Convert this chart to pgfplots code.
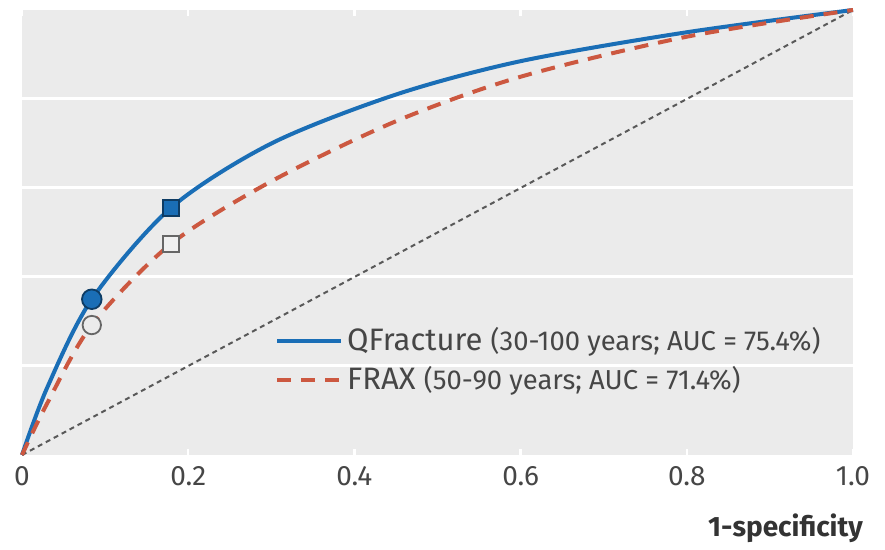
\documentclass[border=0pt]{standalone}
\usepackage{fontspec}
\setmainfont{Fira Sans}
\usepackage{pgfplots}
\pgfplotsset{compat=1.18}

\definecolor{qblue}{RGB}{26,110,182}
\definecolor{fred}{RGB}{204,88,64}
\definecolor{panel}{RGB}{235,235,235}
\definecolor{txt}{RGB}{70,70,70}

\begin{document}
\begin{tikzpicture}
\begin{axis}[
  width=415.5pt, height=222.5pt, scale only axis,
  xmin=0, xmax=1, ymin=0, ymax=1,
  axis background/.style={fill=panel},
  axis line style={draw=none},
  xtick={0,0.2,0.4,0.6,0.8,1},
  xticklabels={0,0.2,0.4,0.6,0.8,1.0},
  ytick={0.2,0.4,0.6,0.8},
  yticklabels={},
  ymajorgrids,
  grid style={white, line width=1.5pt},
  major tick length=3pt,
  tick align=inside,
  xtick style={white, line width=1.2pt},
  ytick style={draw=none},
  /pgf/number format/assume math mode=true,
  tick label style={font=\fontsize{14}{16}\selectfont, text=txt},
  xticklabel style={yshift=-2pt},
  xlabel={\textbf{1-specificity}},
  xlabel style={at={(axis description cs:1,0)}, anchor=north east,
    font=\fontsize{14}{16}\selectfont, text=black!80, yshift=-26pt, xshift=8.5pt},
  legend style={draw=none, fill=none, at={(0.297,0.305)}, anchor=north west,
    font=\fontsize{15.5}{17}\selectfont, text=txt, row sep=2.5pt},
  legend cell align=left,
  legend image code/.code={\draw[#1] (0pt,0pt) -- (32pt,0pt);},
  clip=false,
]
% chance line
\addplot[forget plot, black!65, line width=1pt, dash pattern=on 2.5pt off 2pt]
  coordinates {(0,0) (1,1)};

% QFracture ROC curve
\addplot[qblue, line width=2pt, smooth] coordinates {
  (0,0) (0.03,0.15) (0.084,0.35) (0.179,0.555) (0.3,0.70)
  (0.45,0.81) (0.6,0.885) (0.8,0.95) (1,1)};
\addlegendentry{QFracture {\fontsize{13.7}{15}\selectfont (30-100 years; AUC = 75.4\%)}}

% FRAX ROC curve
\addplot[fred, line width=2pt, smooth, dash pattern=on 7pt off 5pt] coordinates {
  (0,0) (0.03,0.115) (0.084,0.292) (0.179,0.474) (0.3,0.615)
  (0.45,0.75) (0.6,0.85) (0.8,0.94) (1,1)};
\addlegendentry{FRAX {\fontsize{13.7}{15}\selectfont (50-90 years; AUC = 71.4\%)}}

% operating points
\addplot[forget plot, only marks, mark=*, mark size=4.6pt,
  mark options={fill=white!92!black, draw=black!60, line width=0.9pt}]
  coordinates {(0.084,0.292)};
\addplot[forget plot, only marks, mark=*, mark size=4.9pt,
  mark options={fill=qblue, draw=qblue!55!black, line width=0.9pt}]
  coordinates {(0.084,0.35)};
\addplot[forget plot, only marks, mark=square*, mark size=4pt,
  mark options={fill=white!94!black, draw=black!60, line width=0.9pt}]
  coordinates {(0.179,0.474)};
\addplot[forget plot, only marks, mark=square*, mark size=4pt,
  mark options={fill=qblue, draw=qblue!55!black, line width=0.9pt}]
  coordinates {(0.179,0.555)};
\end{axis}
\path (current axis.south west) ++(-11pt,-46pt) coordinate (bbA);
\path (current axis.north east) ++(16pt,5pt) coordinate (bbB);
\path (bbA) rectangle (bbB);
\end{tikzpicture}
\end{document}
